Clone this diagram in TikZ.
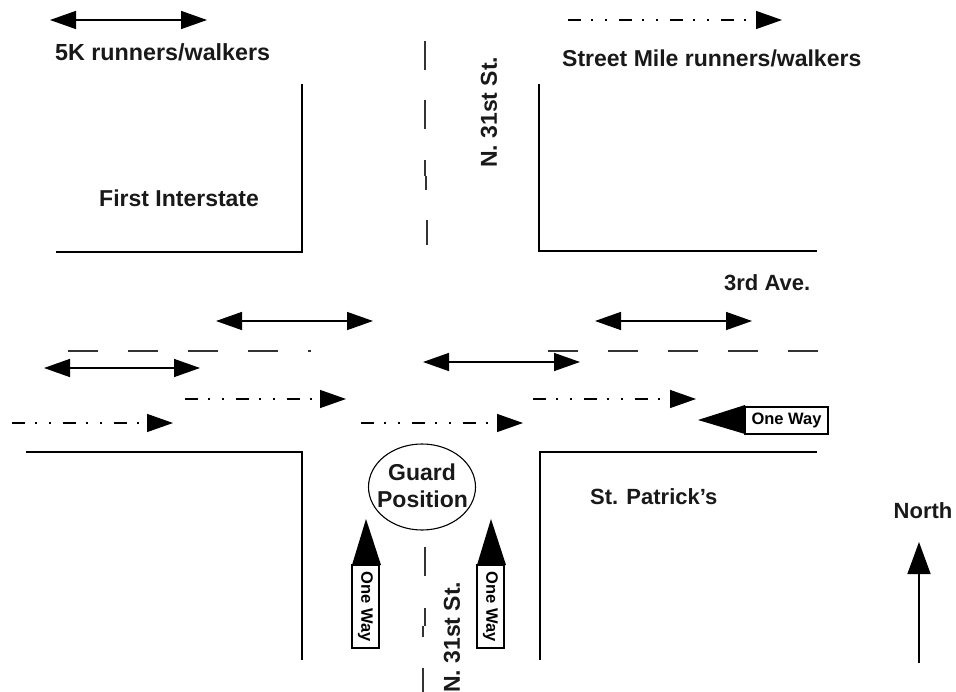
\documentclass[tikz,border=0pt]{standalone}
\usepackage{fontspec}
\setmainfont{Liberation Sans}
\usetikzlibrary{arrows.meta,shapes.geometric}
\tikzset{
  x=1pt,y=-1pt,
  curb/.style={draw=black,line width=2.7pt,line cap=butt,line join=miter},
  roadline/.style={draw=black!80,line width=1.4pt,dash pattern=on 30pt off 30pt},
  roadvert/.style={draw=black!80,line width=1.4pt},
  twoway/.style={draw=black,line width=1.5pt,{Triangle[length=26pt,width=18pt]}-{Triangle[length=26pt,width=18pt]}},
  mile/.style={draw=black,line width=1.4pt,dash pattern=on 13pt off 10pt on 1.5pt off 12.5pt on 1.5pt off 12.5pt,-{Triangle[length=26pt,width=18pt]}},
  lbl/.style={font=\fontsize{23}{26}\selectfont\bfseries,inner sep=0pt,text=black!90},
  lbls/.style={font=\fontsize{22}{26}\selectfont\bfseries,inner sep=0pt,text=black!90},
  lblw/.style={font=\fontsize{23.3}{26}\selectfont\bfseries,inner sep=0pt,text=black!90},
  sign/.style={draw=black,line width=2pt,fill=white,inner sep=0pt,font=\fontsize{16.5}{18}\selectfont\bfseries},
  guard/.style={draw=black,line width=1.1pt,ellipse,minimum width=107pt,minimum height=86pt,inner sep=0pt},
}
\begin{document}
\begin{tikzpicture}
\useasboundingbox (0,0) rectangle (956,692);
% curbs
\coordinate (nwa) at (302,84); \coordinate (nwb) at (302,252); \coordinate (nwc) at (56,252);
\coordinate (nea) at (539,84); \coordinate (neb) at (539,251); \coordinate (nec) at (817,251);
\coordinate (swa) at (26,452); \coordinate (swb) at (302,452); \coordinate (swc) at (302,660);
\coordinate (sea) at (817,452); \coordinate (seb) at (540,452); \coordinate (sec) at (540,660);
\draw[curb] (nwa) -- (nwb) -- (nwc);
\draw[curb] (nea) -- (neb) -- (nec);
\draw[curb] (swa) -- (swb) -- (swc);
\draw[curb] (sea) -- (seb) -- (sec);
% centre lines
\coordinate (ewa) at (68,351); \coordinate (ewb) at (311,351);
\coordinate (ewc) at (548,351); \coordinate (ewd) at (820,351);
\draw[roadline] (ewa) -- (ewb);
\draw[roadline] (ewc) -- (ewd);
\foreach \xa/\ya/\xb/\yb in {425/41/425/70, 425/100/425/129, 425/160/425/176, 426/176/426/190, 427/220/427/245, 425/547/425/576, 425/608/425/626, 423/626/423/637, 423/668/423/692}
  \draw[roadvert] (\xa,\ya) -- (\xb,\yb);
% two-way arrows
\foreach \n/\xa/\xb/\yy in {p/50/207/20, q/216/373/321, r/44/200/368, s/423/580/362, t/595/752/321}{
  \coordinate (\n a) at (\xa,\yy); \coordinate (\n b) at (\xb,\yy);
  \draw[twoway] (\n a) -- (\n b);
}
% mile arrows
\foreach \n/\xa/\xb/\yy in {u/568/782/20, v/185/346/399, w/12/173/423, y/361/523/423, z/533/696/399}{
  \coordinate (\n a) at (\xa,\yy); \coordinate (\n b) at (\xb,\yy);
  \draw[mile] (\n a) -- (\n b);
}
% labels
\node[lblw,anchor=west] (l5k) at (55,52) {5K runners/walkers};
\node[lbl,anchor=west] (lsm) at (562,58) {Street Mile runners/walkers};
\node[lbl,anchor=west] (lfi) at (99,198) {First Interstate};
\node[lbls,anchor=west] (l3a) at (724,283) {3rd Ave.};
\node[lbls,anchor=west] (lsp) at (590,497) {St. Patrick's};
\node[lbls,anchor=center] (lno) at (923,511) {North};
\node[lbl,rotate=90,anchor=west] (ln1) at (489,168) {N. 31st St.};
\node[lbl,rotate=90,anchor=west] (ln2) at (452,693) {N. 31st St.};
\node[guard] (gp) at (422,487) {};
\node[lbl] (g1) at (422,472) {Guard};
\node[lbl] (g2) at (422.5,499) {Position};
% one-way signs
\fill (352,565) -- (366,519) -- (381,565) -- cycle;
\node[sign,rotate=-90,minimum width=83pt,minimum height=27pt] (ow1) at (365.5,606.5) {One Way};
\fill (477,565) -- (491,519) -- (506,565) -- cycle;
\node[sign,rotate=-90,minimum width=83pt,minimum height=27pt] (ow2) at (490.5,606.5) {One Way};
\fill (698,420) -- (745,405) -- (745,434) -- cycle;
\node[sign,minimum width=83pt,minimum height=27pt] (ow3) at (786.5,420.5) {One Way};
% north arrow
\coordinate (na) at (919,663); \coordinate (nb) at (919,542);
\draw[draw=black,line width=1.5pt,-{Triangle[length=32pt,width=23pt]}] (na) -- (nb);
\end{tikzpicture}
\end{document}
